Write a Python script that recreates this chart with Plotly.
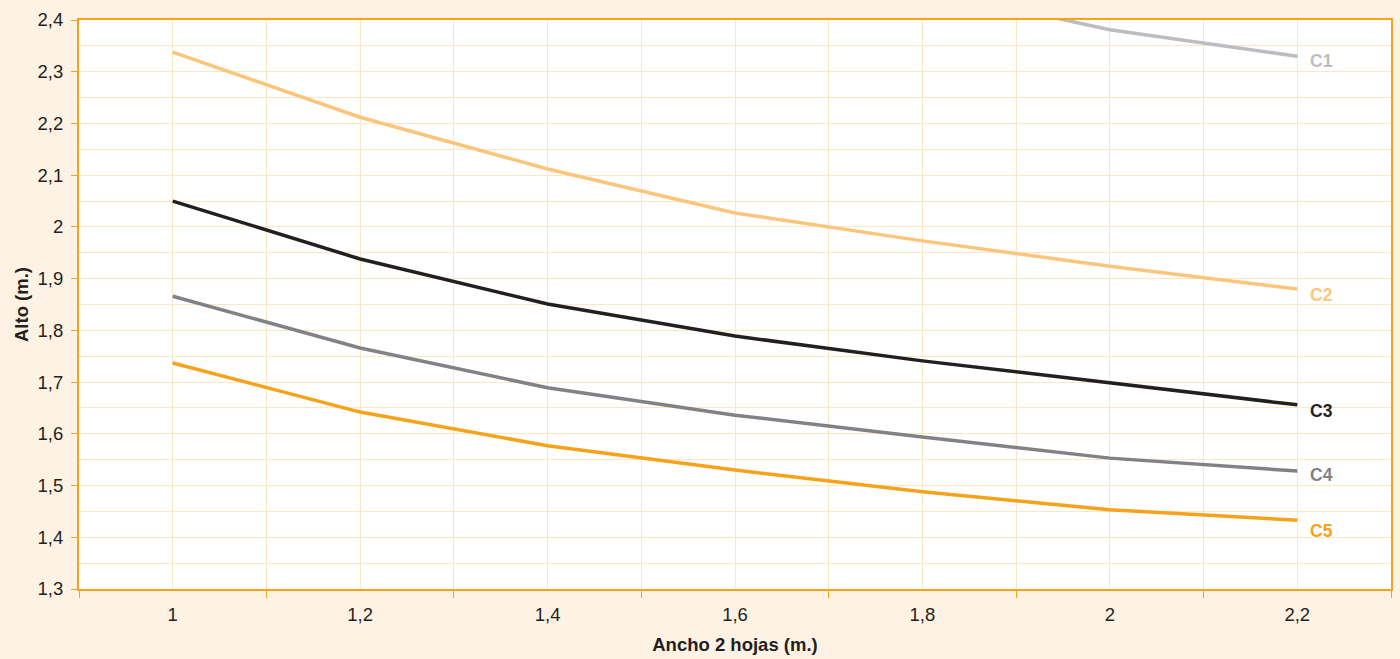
import plotly.graph_objects as go

ancho = [1.0, 1.2, 1.4, 1.6, 1.8, 2.0, 2.2]
ancho_labels = ["1", "1,2", "1,4", "1,6", "1,8", "2", "2,2"]

alto_ticks = [1.3, 1.4, 1.5, 1.6, 1.7, 1.8, 1.9, 2.0, 2.1, 2.2, 2.3, 2.4]
alto_labels = ["1,3", "1,4", "1,5", "1,6", "1,7", "1,8", "1,9", "2", "2,1", "2,2", "2,3", "2,4"]

c1 = [2.90, 2.74, 2.62, 2.52, 2.46, 2.381, 2.330]
c2 = [2.338, 2.212, 2.112, 2.027, 1.973, 1.924, 1.880]
c3 = [2.050, 1.938, 1.851, 1.789, 1.741, 1.698, 1.656]
c4 = [1.866, 1.766, 1.689, 1.636, 1.594, 1.553, 1.528]
c5 = [1.737, 1.642, 1.577, 1.530, 1.488, 1.453, 1.433]

series = [
    ("C1", c1, "#bcbdc1", -5),
    ("C2", c2, "#fbc57c", -6),
    ("C3", c3, "#231f20", -6),
    ("C4", c4, "#808285", -4),
    ("C5", c5, "#f7a21b", -11),
]

ORANGE = "#f7a21b"
GRID = "#fde6c4"
TEXT = "#231f20"
FONT = "Liberation Sans, Arial, sans-serif"

fig = go.Figure()
for name, vals, color, shift in series:
    fig.add_trace(go.Scatter(x=ancho, y=vals, name=name, mode="lines",
                             line=dict(color=color, width=3.5)))
    fig.add_annotation(x=ancho[-1], y=vals[-1], text=f"<b>{name}</b>",
                       showarrow=False, xanchor="left", xshift=11, yshift=shift,
                       font=dict(color=color, size=17.5, family=FONT))

fig.update_layout(
    width=1400, height=659,
    margin=dict(l=79, r=7, t=20, b=70),
    paper_bgcolor="#fdf2e3",
    plot_bgcolor="white",
    showlegend=False,
    font=dict(family=FONT, size=18.5, color=TEXT),
)

fig.update_xaxes(
    range=[0.9, 2.3],
    tickvals=ancho,
    ticktext=ancho_labels,
    ticks="",
    showgrid=True, gridcolor=GRID, gridwidth=1,
    minor=dict(tickvals=[0.9, 1.1, 1.3, 1.5, 1.7, 1.9, 2.1, 2.3],
               ticks="outside", ticklen=7, tickcolor=ORANGE,
               showgrid=True, gridcolor=GRID, gridwidth=1),
    showline=True, linecolor=ORANGE, linewidth=2, mirror=True,
    zeroline=False,
    title=dict(text="<b>Ancho 2 hojas (m.)</b>", font=dict(size=18.5), standoff=14),
    ticklabelstandoff=8,
)

fig.update_yaxes(
    range=[1.3, 2.4],
    tickvals=alto_ticks,
    ticktext=alto_labels,
    ticks="outside", ticklen=6, tickcolor=ORANGE,
    showgrid=True, gridcolor=GRID, gridwidth=1,
    minor=dict(dtick=0.05, tick0=1.3, showgrid=True, gridcolor=GRID, ticks=""),
    showline=True, linecolor=ORANGE, linewidth=2, mirror=True,
    zeroline=False,
    title=dict(text="<b>Alto (m.)</b>", font=dict(size=18.5), standoff=4),
    ticklabelstandoff=4,
)

fig.write_html("out.html", config=dict(displayModeBar=False),
               post_script="document.body.style.margin='0';document.body.style.overflow='hidden';")
